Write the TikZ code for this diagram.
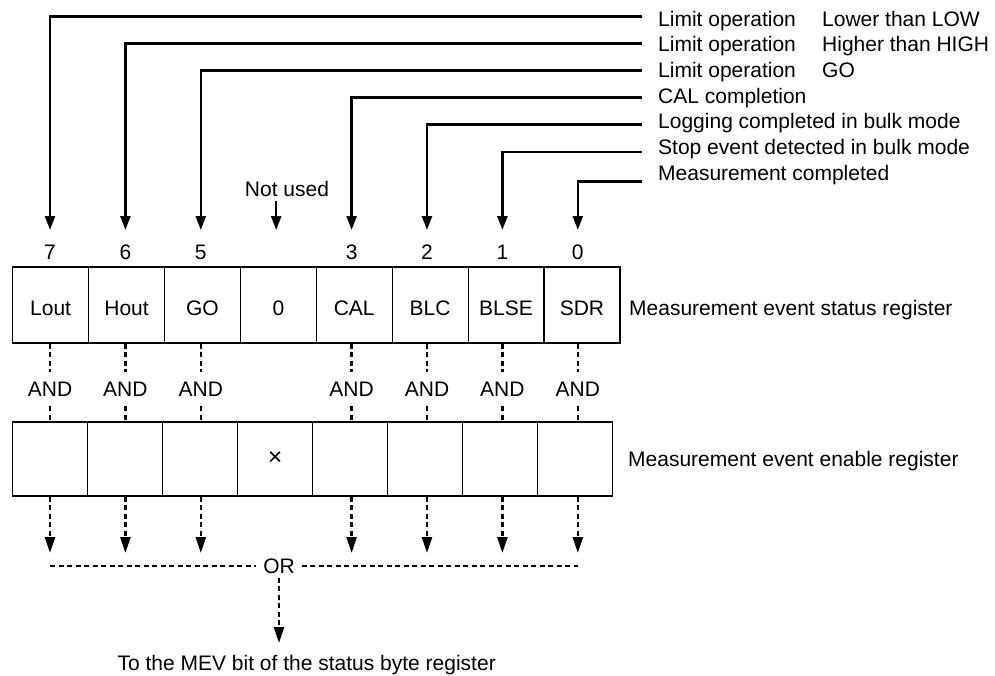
\documentclass[tikz,border=0pt]{standalone}
\usepackage{fontspec}
\setmainfont{Liberation Sans}
\usetikzlibrary{arrows.meta}
\begin{document}
\begin{tikzpicture}[x=1pt,y=-1pt,font=\fontsize{21}{25}\selectfont,
  solidline/.style={line width=2.4pt},
  arr/.style={solidline,-{Triangle[length=14pt,width=10pt]}},
  dsh/.style={line width=2.5pt,dash pattern=on 5pt off 3.5pt},
  dsharr/.style={dsh,-{Triangle[length=16pt,width=10pt]}},
  cellA/.style={draw,line width=1.2pt,minimum width=75.9pt,minimum height=76pt,inner sep=0pt,text height=21pt,text depth=0pt},
  cellB/.style={draw,line width=1.2pt,minimum width=75pt,minimum height=74pt,inner sep=0pt},
  lbl/.style={inner sep=0pt,anchor=base west},
  txt/.style={inner sep=0pt,anchor=base}]
\useasboundingbox (0,0) rectangle (995,675);

% status register
\foreach \c/\t in {0/Lout,1/Hout,2/GO,3/0,4/CAL,5/BLC,6/BLSE,7/SDR}
  \node[cellA] (s\c) at ({12.7+75.9*(\c+0.5)},305) {\t};
% enable register
\foreach \c in {0,1,2,4,5,6,7}
  \node[cellB] (r\c) at ({12.7+75*(\c+0.5)},459) {};
\node[cellB] (r3) at ({12.7+75*3.5},459) {\fontsize{25}{25}\selectfont ×};

\node[lbl] (sl) at (629,315.5) {Measurement event status register};
\node[lbl] (el) at (628,466.5) {Measurement event enable register};

% column coordinates
\foreach \c/\x in {0/50,1/125.4,2/200.8,3/276.2,4/351.6,5/427,6/502.4,7/577.8}
  \coordinate (x\c) at (\x,0);

% bit numbers and arrow tips
\foreach \c/\x/\b in {0/50/7,1/125.4/6,2/200.8/5,4/351.6/3,5/427/2,6/502.4/1,7/577.8/0}{
  \node[txt] (b\c) at (\x,259.5) {\b};
  \coordinate (t\c) at (\x,230);
}
\coordinate (t3) at (276.2,230);

% top labels
\node[lbl] (l0) at (658,26) {Limit operation};
\node[lbl] (m0) at (822,26) {Lower than LOW};
\node[lbl] (l1) at (658,51.7) {Limit operation};
\node[lbl] (m1) at (822,51.7) {Higher than HIGH};
\node[lbl] (l2) at (658,77.3) {Limit operation};
\node[lbl] (m2) at (822,77.3) {GO};
\node[lbl] (l4) at (658,103) {CAL completion};
\node[lbl] (l5) at (658,128.7) {Logging completed in bulk mode};
\node[lbl] (l6) at (658,154.3) {Stop event detected in bulk mode};
\node[lbl] (l7) at (658,180) {Measurement completed};

\foreach \c/\y in {0/16.5,1/43.5,2/70.5,4/97.5,5/124.5,6/152,7/181.5}{
  \coordinate (e\c) at (642,\y);
  \draw[arr] (e\c) -| (t\c);
}

% not used
\node[txt] (nu) at (287,196.7) {Not used};
\draw[arr] ([yshift=-4pt]nu.south -| t3) -- (t3);

% AND connections
\foreach \c/\x in {0/50,1/125.4,2/200.8,4/351.6,5/427,6/502.4,7/577.8}{
  \node[inner xsep=0pt,inner ysep=10pt] (a\c) at (\x,389) {AND};
  \draw[dsh] (a\c |- s\c.south) -- (a\c.north);
  \draw[dsh] (a\c.south) -- (a\c |- r\c.north);
  \coordinate (d\c) at (\x,553);
  \draw[dsharr] (d\c |- r\c.south) -- (d\c);
}

% OR
\node[inner xsep=7pt,inner ysep=4pt] (orn) at (279,566) {OR};
\draw[dsh] (d0 |- orn) -- (orn.west);
\draw[dsh] (orn.east) -- (d7 |- orn);

\node[txt] (mev) at (306.7,670) {To the MEV bit of the status byte register};
\coordinate (mt) at (279,643);
\draw[dsharr] (orn.south -| mt) -- (mt);
\end{tikzpicture}
\end{document}
